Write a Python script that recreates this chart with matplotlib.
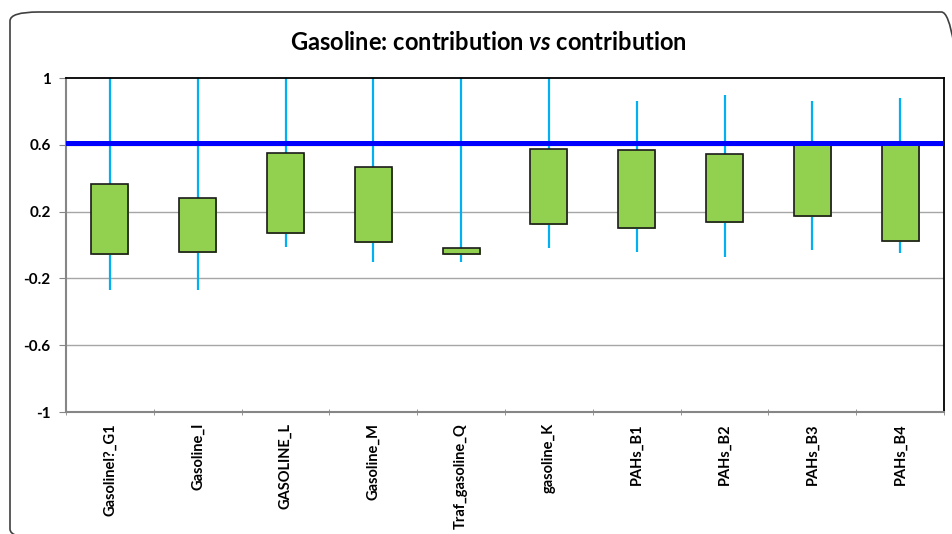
import matplotlib
matplotlib.use("Agg")
import matplotlib.pyplot as plt
from matplotlib.patches import FancyBboxPatch
import numpy as np

plt.rcParams['font.family'] = ['Lato', 'DejaVu Sans']
plt.rcParams['mathtext.fontset'] = 'custom'
plt.rcParams['mathtext.it'] = 'Lato:italic:bold'
plt.rcParams['mathtext.rm'] = 'Lato:bold'

categories = ["Gasolinel?_G1", "Gasoline_I", "GASOLINE_L", "Gasoline_M", "Traf_gasoline_Q",
              "gasoline_K", "PAHs_B1", "PAHs_B2", "PAHs_B3", "PAHs_B4"]
high = [1.0, 1.0, 1.0, 1.0, 1.0, 1.0, 0.86, 0.90, 0.86, 0.88]
low = [-0.27, -0.27, -0.01, -0.10, -0.10, -0.02, -0.04, -0.07, -0.03, -0.05]
box_top = [0.365, 0.28, 0.55, 0.47, -0.015, 0.575, 0.57, 0.545, 0.60, 0.60]
box_bottom = [-0.055, -0.04, 0.07, 0.02, -0.055, 0.125, 0.10, 0.135, 0.175, 0.025]
threshold = 0.61
yticks = [1, 0.6, 0.2, -0.2, -0.6, -1]
ytick_labels = ["1", "0.6", "0.2", "-0.2", "-0.6", "-1"]

fig = plt.figure(figsize=(9.52, 5.34), dpi=100)
ax = fig.add_axes([66/952, 122/534, (944-66)/952, (412-78)/534])

# outer rounded border (extends past right and bottom edges)
border = FancyBboxPatch((10/952, -4/534), 960/952, 526/534,
                        boxstyle="round,pad=0,rounding_size=0.03",
                        transform=fig.transFigure, fill=False,
                        edgecolor="#404040", linewidth=1.2, clip_on=False,
                        mutation_aspect=534/952)
fig.patches.append(border)

x = np.arange(len(categories))
ax.set_xlim(-0.5, len(categories) - 0.5)
ax.set_ylim(-1, 1)

for yv in [0.6, 0.2, -0.2, -0.6]:
    ax.axhline(yv, color="#a6a6a6", linewidth=1.0, zorder=0)

ax.vlines(x, low, high, color="#00b0f0", linewidth=1.6, zorder=1)
heights = np.array(box_top) - np.array(box_bottom)
ax.bar(x + 0.012, heights, bottom=np.array(box_bottom) - 0.006, width=0.42,
       color="#92d050", edgecolor="none", zorder=2)
ax.bar(x, heights, bottom=box_bottom, width=0.42,
       color="#92d050", edgecolor="#1a1a1a", linewidth=1.2, zorder=3)

ax.axhline(threshold, color="#0000ff", linewidth=3.6, zorder=4)

ax.set_yticks(yticks)
ax.set_yticklabels(ytick_labels, fontsize=11, fontweight="bold")
ax.set_xticks(x)
ax.set_xticklabels(categories, rotation=90, fontsize=10.5, fontweight="bold", va="top")
ax.set_xticks(np.arange(len(categories) + 1) - 0.5, minor=True)
ax.tick_params(axis="x", which="major", length=0, pad=8)
ax.tick_params(axis="x", which="minor", length=5, color="#868686", direction="inout")
ax.tick_params(axis="y", length=5, color="#868686", direction="out", pad=6)

for s in ["left", "bottom"]:
    ax.spines[s].set_color("#868686")
    ax.spines[s].set_linewidth(1.5)
ax.spines["top"].set_color("black")
ax.spines["top"].set_linewidth(1.3)
ax.spines["right"].set_color("black")
ax.spines["right"].set_linewidth(1.3)

fig.text(0.5125, 1 - 43/534, "Gasoline: contribution $\\mathit{vs}$ contribution",
         ha="center", va="center", fontsize=17, fontweight="bold")

fig.savefig("out.png", dpi=100)
